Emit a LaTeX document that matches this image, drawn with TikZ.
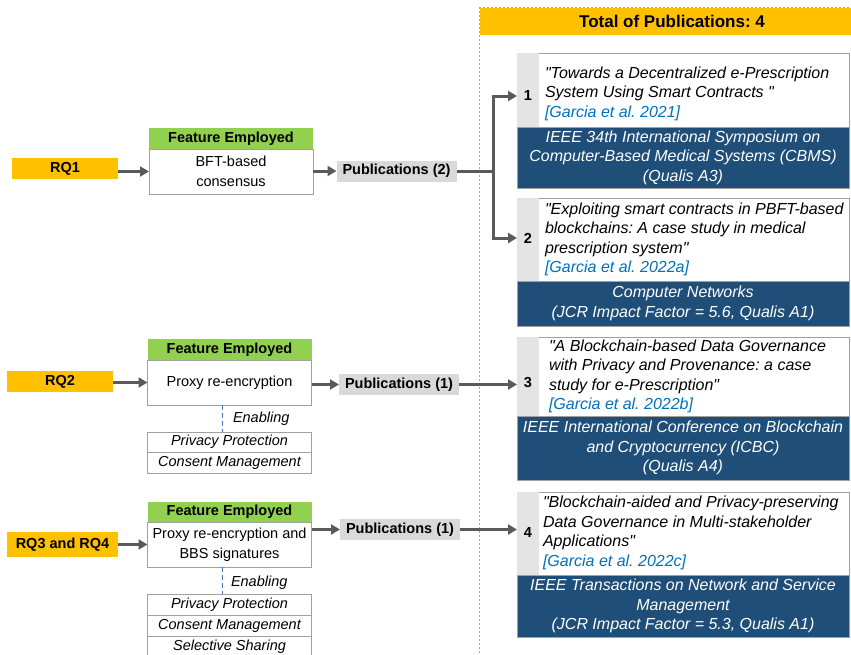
\documentclass[tikz,border=0pt]{standalone}
\usepackage{fontspec}
\setmainfont{Liberation Sans}[Ligatures=TeXOff]
\usetikzlibrary{arrows.meta}
\definecolor{rqyellow}{HTML}{FFC000}
\definecolor{featgreen}{HTML}{92D050}
\definecolor{venueblue}{HTML}{1F4E79}
\definecolor{pubgray}{HTML}{D9D9D9}
\definecolor{numgray}{HTML}{E4E4E4}
\definecolor{citeblue}{HTML}{0070C0}
\definecolor{arrowgray}{HTML}{5A5A5A}
\definecolor{boxline}{HTML}{A0A0A0}
\definecolor{framegray}{HTML}{A6A6A6}
\definecolor{enabblue}{HTML}{4472C4}
\newcommand{\dq}{\symbol{34}}
\frenchspacing
\begin{document}
\begin{tikzpicture}[x=1pt,y=-1pt,
  every node/.style={font=\fontsize{14.5}{19.5}\selectfont, inner sep=0pt, outer sep=0pt},
  rqbox/.style={fill=rqyellow, font=\fontsize{14.5}{19.5}\selectfont\bfseries, minimum height=21pt},
  feathead/.style={fill=featgreen, font=\fontsize{14.5}{19.5}\selectfont\bfseries, minimum width=164pt, minimum height=21pt},
  featbox/.style={draw=boxline, line width=0.8pt, fill=white, minimum width=164pt, minimum height=45pt, align=center},
  pubcount/.style={fill=pubgray, font=\fontsize{14.5}{19.5}\selectfont\bfseries, minimum width=120pt, minimum height=21pt},
  enabbox/.style={draw=boxline, line width=0.8pt, minimum width=164pt, minimum height=21pt, font=\fontsize{14.5}{19.5}\selectfont\itshape},
  enabtext/.style={anchor=west, font=\fontsize{14.5}{19.5}\selectfont\itshape},
  enabline/.style={draw=enabblue, line width=0.8pt, dash pattern=on 5pt off 3pt},
  pubframe/.style={draw=boxline, line width=0.8pt, fill=white, minimum width=332pt},
  numcol/.style={fill=numgray, minimum width=22pt},
  numtext/.style={font=\fontsize{14.5}{19.5}\selectfont\bfseries},
  titletext/.style={anchor=west, align=left, font=\fontsize{16}{19.5}\selectfont\itshape},
  venue/.style={draw=boxline, line width=0.8pt, fill=venueblue, text=white, minimum width=332pt, align=center, font=\fontsize{16}{19.5}\selectfont\itshape},
  conn/.style={draw=arrowgray, line width=3pt},
  arr/.style={conn, -{Triangle[length=9pt,width=10pt]}},
  framedash/.style={draw=framegray, line width=0.8pt, dash pattern=on 2pt off 2pt}
]
\useasboundingbox (0,0) rectangle (851,654);

% ---- frame and header ----
\draw[framedash] (479,7) -- (870,7);
\draw[framedash] (479,7) -- (479,670);
\node[fill=rqyellow, font=\fontsize{17}{20}\selectfont\bfseries, minimum width=384pt, minimum height=27pt] (total) at (672,21.5) {Total of Publications: 4};

% ---- publication 1 ----
\node[pubframe, minimum height=135pt] (pf1) at (683,120.5) {};
\node[numcol, minimum height=74pt] (c1) at (528,90) {};
\node[numtext] (n1) at (528,96) {1};
\node[titletext] (t1) at (545,93.5) {\dq Towards a Decentralized e-Prescription\\ System Using Smart Contracts \dq\\ {\color{citeblue}[Garcia et al. 2021]}};
\node[venue, minimum height=61pt] (v1) at (683,157.5) {IEEE 34th International Symposium on\\ Computer-Based Medical Systems (CBMS)\\ (Qualis A3)};

% ---- publication 2 ----
\node[pubframe, minimum height=128pt] (pf2) at (683,262) {};
\node[numcol, minimum height=83pt] (c2) at (528,239.5) {};
\node[numtext] (n2) at (528,238) {2};
\node[titletext] (t2) at (545,239.5) {\dq Exploiting smart contracts in PBFT-based\\ blockchains: A case study in medical\\ prescription system\dq\\ {\color{citeblue}[Garcia et al. 2022a]}};
\node[venue, minimum height=45pt] (v2) at (683,303.5) {Computer Networks\\ (JCR Impact Factor = 5.6, Qualis A1)};

% ---- publication 3 ----
\node[pubframe, minimum height=143pt] (pf3) at (683,408.5) {};
\node[numcol, minimum height=79pt] (c3) at (528,376.5) {};
\node[numtext] (n3) at (528,383) {3};
\node[titletext] (t3) at (549,376.5) {\dq A Blockchain-based Data Governance\\ with Privacy and Provenance: a case\\ study for e-Prescription\dq\\ {\color{citeblue}[Garcia et al. 2022b]}};
\node[venue, minimum height=64pt] (v3) at (683,448) {IEEE International Conference on Blockchain\\ and Cryptocurrency (ICBC)\\ (Qualis A4)};

% ---- publication 4 ----
\node[pubframe, minimum height=145pt] (pf4) at (683,564.5) {};
\node[numcol, minimum height=83pt] (c4) at (528,533.5) {};
\node[numtext] (n4) at (528,533) {4};
\node[titletext] (t4) at (543,533) {\dq Blockchain-aided and Privacy-preserving\\ Data Governance in Multi-stakeholder\\ Applications\dq\\ {\color{citeblue}[Garcia et al. 2022c]}};
\node[venue, minimum height=62pt] (v4) at (683,606) {IEEE Transactions on Network and Service\\ Management\\ (JCR Impact Factor = 5.3, Qualis A1)};

% ---- row 1 ----
\node[rqbox, minimum width=106pt] (rq1) at (65,168.5) {RQ1};
\node[feathead] (fh1) at (231,138.5) {Feature Employed};
\node[featbox] (f1) at (231,171.5) {BFT-based\\ consensus};
\node[pubcount] (p1) at (396.5,171) {Publications (2)};
\coordinate (j1) at (493,171);
\draw[arr] (rq1.east |- f1.west) -- (f1.west);
\draw[arr] (f1.east |- p1.west) -- (p1.west);
\draw[conn] (p1.east) -- (j1);
\draw[arr] (j1) |- (c1.west |- n1);
\draw[arr] (j1) |- (c2.west |- n2);

% ---- row 2 ----
\node[rqbox, minimum width=106pt] (rq2) at (60,381.5) {RQ2};
\node[feathead] (fh2) at (229.5,349.5) {Feature Employed};
\node[featbox] (f2) at (229.5,382.5) {Proxy re-encryption};
\node[pubcount] (p2) at (399,384.5) {Publications (1)};
\coordinate (ex) at (222,0);
\node[enabbox, minimum height=20pt] (pp2) at (229.5,442) {Privacy Protection};
\node[enabbox] (cm2) at (229.5,462.5) {Consent Management};
\node[enabtext] (en2) at (233,419) {Enabling};
\draw[arr] (rq2.east |- f2.west) -- (f2.west);
\draw[arr] (f2.east |- p2.west) -- (p2.west);
\draw[arr] (p2.east) -- (c3.west |- p2.east);
\draw[enabline] (f2.south -| ex) -- (pp2.north -| ex);

% ---- row 3 ----
\node[rqbox, minimum width=111pt, minimum height=25pt] (rq3) at (62.5,544.5) {RQ3 and RQ4};
\node[feathead, minimum height=20pt] (fh3) at (229.5,512) {Feature Employed};
\node[featbox] (f3) at (229.5,544.5) {Proxy re-encryption and\\ BBS signatures};
\node[pubcount] (p3) at (400,529.5) {Publications (1)};
\node[enabbox] (pp3) at (229.5,604.5) {Privacy Protection};
\node[enabbox] (cm3) at (229.5,625.5) {Consent Management};
\node[enabbox] (ss3) at (229.5,646.5) {Selective Sharing};
\node[enabtext] (en3) at (231,583) {Enabling};
\draw[arr] (rq3.east |- f3.west) -- (f3.west);
\draw[arr] (f3.east |- p3.west) -- (p3.west);
\draw[arr] (p3.east) -- (c4.west |- p3.east);
\draw[enabline] (f3.south -| ex) -- (pp3.north -| ex);
\end{tikzpicture}
\end{document}
